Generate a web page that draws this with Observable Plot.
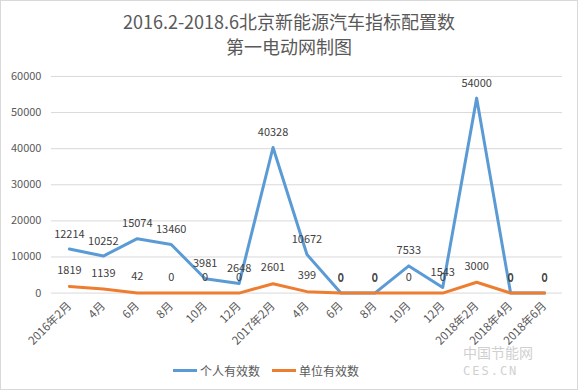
<!DOCTYPE html>
<html><head><meta charset="utf-8">
<script src="https://cdn.jsdelivr.net/npm/d3@7"></script>
<script src="https://cdn.jsdelivr.net/npm/@observablehq/plot@0.6"></script>
<style>
html,body{margin:0;padding:0;background:#fff;}
#wrap{position:relative;width:576px;height:388px;border:1px solid #d9d9d9;background:#fff;overflow:hidden;font-family:"Noto Sans CJK SC","Noto Sans",sans-serif;}
#title{position:absolute;left:0;top:8px;width:576px;text-align:center;color:#595959;font-size:18px;line-height:25px;}
#chart{position:absolute;left:-1px;top:59px;}
#legend{position:absolute;left:172px;top:357px;white-space:nowrap;font-size:12px;color:#595959;}
.li{display:inline-flex;align-items:center;margin-right:12px;}
.sw{display:inline-block;width:24px;height:3px;margin-right:3px;}
#wm{position:absolute;left:462px;top:343px;color:#d0d0d0;font-size:14px;line-height:17px;text-align:left;}
#wm .b{font-family:"DejaVu Sans Mono",monospace;font-size:12px;letter-spacing:2px;}
</style></head>
<body>
<div id="wrap">
<div id="title">2016.2-2018.6北京新能源汽车指标配置数<br>第一电动网制图</div>
<div id="chart"></div>
<div id="legend"></div>
<div id="wm">中国节能网<br><span class="b">CES.CN</span></div>
</div>
<script>
const categories = ["2016年2月","4月","6月","8月","10月","12月","2017年2月","4月","6月","8月","10月","12月","2018年2月","2018年4月","2018年6月"];
const personal = [12214,10252,15074,13460,3981,2648,40328,10672,0,0,7533,1543,54000,0,0];
const unit = [1819,1139,42,0,0,0,2601,399,0,0,0,0,3000,0,0];
const seriesNames = ["个人有效数","单位有效数"];
const colors = ["#5B9BD5","#ED7D31"];
const yTicks = [0,10000,20000,30000,40000,50000,60000];

const rows = [];
categories.forEach((c,i)=>{
  rows.push({i, s:seriesNames[0], v:personal[i]});
  rows.push({i, s:seriesNames[1], v:unit[i]});
});
const pRows = rows.filter(d=>d.s===seriesNames[0]);
const uRows = rows.filter(d=>d.s===seriesNames[1]);

const chart = Plot.plot({
  width:578, height:290,
  marginLeft:51, marginRight:15, marginTop:16, marginBottom:57,
  style:{fontFamily:'"Noto Sans CJK SC","Noto Sans",sans-serif', fontSize:"11px", color:"#595959", background:"transparent"},
  x:{type:"point", domain:d3.range(categories.length), padding:0.5, label:null},
  y:{domain:[0,60000], label:null},
  marks:[
    Plot.ruleY(yTicks,{stroke:"#d9d9d9", strokeWidth:1}),
    Plot.axisY({ticks:yTicks, tickSize:0, tickPadding:10, tickFormat:d=>String(d), fill:"#595959", fontSize:11}),
    Plot.axisX({tickSize:0, tickPadding:11, tickRotate:-45, tickFormat:i=>categories[i], fill:"#595959", fontSize:11.5}),
    Plot.line(pRows,{x:"i", y:"v", stroke:colors[0], strokeWidth:3, strokeLinejoin:"round", strokeLinecap:"round"}),
    Plot.line(uRows,{x:"i", y:"v", stroke:colors[1], strokeWidth:3, strokeLinejoin:"round", strokeLinecap:"round"}),
    Plot.text(pRows,{x:"i", y:"v", text:d=>String(d.v), dy:-15, fill:"#404040", fontSize:11}),
    Plot.text(uRows,{x:"i", y:"v", text:d=>String(d.v), dy:-16, fill:"#404040", fontSize:11})
  ]
});
document.getElementById("chart").appendChild(chart);

const lg = document.getElementById("legend");
seriesNames.forEach((n,k)=>{
  const s = document.createElement("span"); s.className="li";
  s.innerHTML = `<span class="sw" style="background:${colors[k]}"></span>${n}`;
  lg.appendChild(s);
});
</script>
</body></html>
